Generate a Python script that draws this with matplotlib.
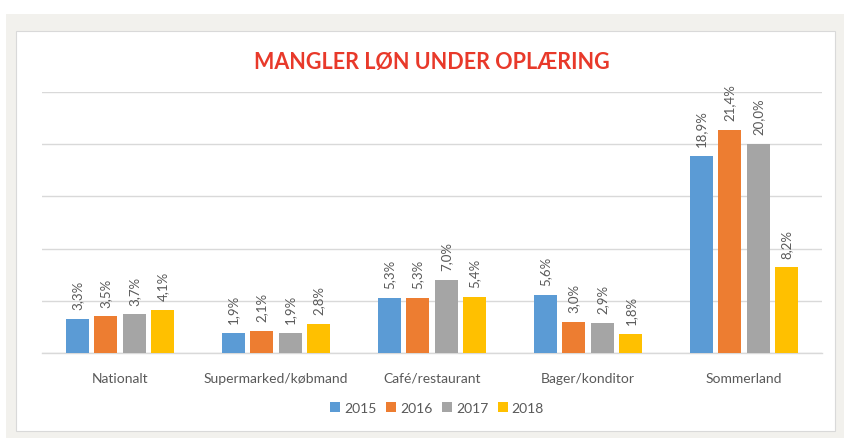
import matplotlib
matplotlib.use("Agg")
import matplotlib.pyplot as plt
from matplotlib.patches import Rectangle
import numpy as np

categories = ["Nationalt", "Supermarked/købmand", "Café/restaurant", "Bager/konditor", "Sommerland"]
years = ["2015", "2016", "2017", "2018"]
v2015 = [3.3, 1.9, 5.3, 5.6, 18.9]
v2016 = [3.5, 2.1, 5.3, 3.0, 21.4]
v2017 = [3.7, 1.9, 7.0, 2.9, 20.0]
v2018 = [4.1, 2.8, 5.4, 1.8, 8.2]
series = [v2015, v2016, v2017, v2018]
colors = ["#5b9bd5", "#ed7d31", "#a5a5a5", "#ffc000"]
title = "MANGLER LØN UNDER OPLÆRING"

plt.rcParams['font.family'] = ['Lato', 'DejaVu Sans']

W, H = 845, 439
fig = plt.figure(figsize=(W/100, H/100), dpi=100)
fig.patch.set_facecolor("white")

def px(x0, y0, x1, y1):
    return (x0/W, 1 - y1/H, (x1-x0)/W, (y1-y0)/H)

# background frames
fig.patches.append(Rectangle((6/W, 0), 1 - 6/W, 1 - 15/H, transform=fig.transFigure,
                             facecolor="#f2f1ed", edgecolor="none", zorder=-10))
fig.patches.append(Rectangle((16/W, 1 - 432/H), (835-16)/W, (432-32)/H, transform=fig.transFigure,
                             facecolor="white", edgecolor="#d9d9d9", linewidth=0.8, zorder=-9))

ax = fig.add_axes(px(42, 93, 822, 354))
ax.set_zorder(1)
ax.set_facecolor("none")
n = len(categories)
x = np.arange(n)
step = 0.183
bw = 0.148
for i, (vals, c) in enumerate(zip(series, colors)):
    pos = x + (i - 1.5) * step
    ax.bar(pos, vals, width=bw, color=c, label=years[i], zorder=3)
    for p, v in zip(pos, vals):
        ax.annotate(f"{v:.1f}%".replace(".", ","), (p, v), xytext=(0, 7),
                    textcoords="offset points", rotation=90, ha="center", va="bottom",
                    fontsize=9.5, color="#595959")

ax.set_xlim(-0.5, n - 0.5)
ax.set_ylim(0, 25)
ax.set_yticks(np.arange(0, 26, 5))
ax.yaxis.grid(True, color="#d9d9d9", linewidth=1.0, zorder=0)
ax.set_axisbelow(True)
ax.tick_params(axis="y", left=False, labelleft=False)
ax.tick_params(axis="x", bottom=False, labelsize=10, labelcolor="#595959", pad=10)
ax.set_xticks(x)
ax.set_xticklabels(categories)
for s in ["top", "right", "left"]:
    ax.spines[s].set_visible(False)
ax.spines["bottom"].set_color("#d9d9d9")
ax.spines["bottom"].set_linewidth(1.0)

fig.text(432/W, 1 - 63/H, title, ha="center", va="center", fontsize=15.5,
         fontweight="bold", color="#e8392a")

leg = fig.legend(loc="center", bbox_to_anchor=(437/W, 1 - 409/H), ncol=4, frameon=False,
                 fontsize=10, handlelength=0.7, handleheight=0.7, handletextpad=0.3,
                 columnspacing=0.7)
for t in leg.get_texts():
    t.set_color("#595959")

fig.savefig("out.png", dpi=100, facecolor=fig.get_facecolor())
